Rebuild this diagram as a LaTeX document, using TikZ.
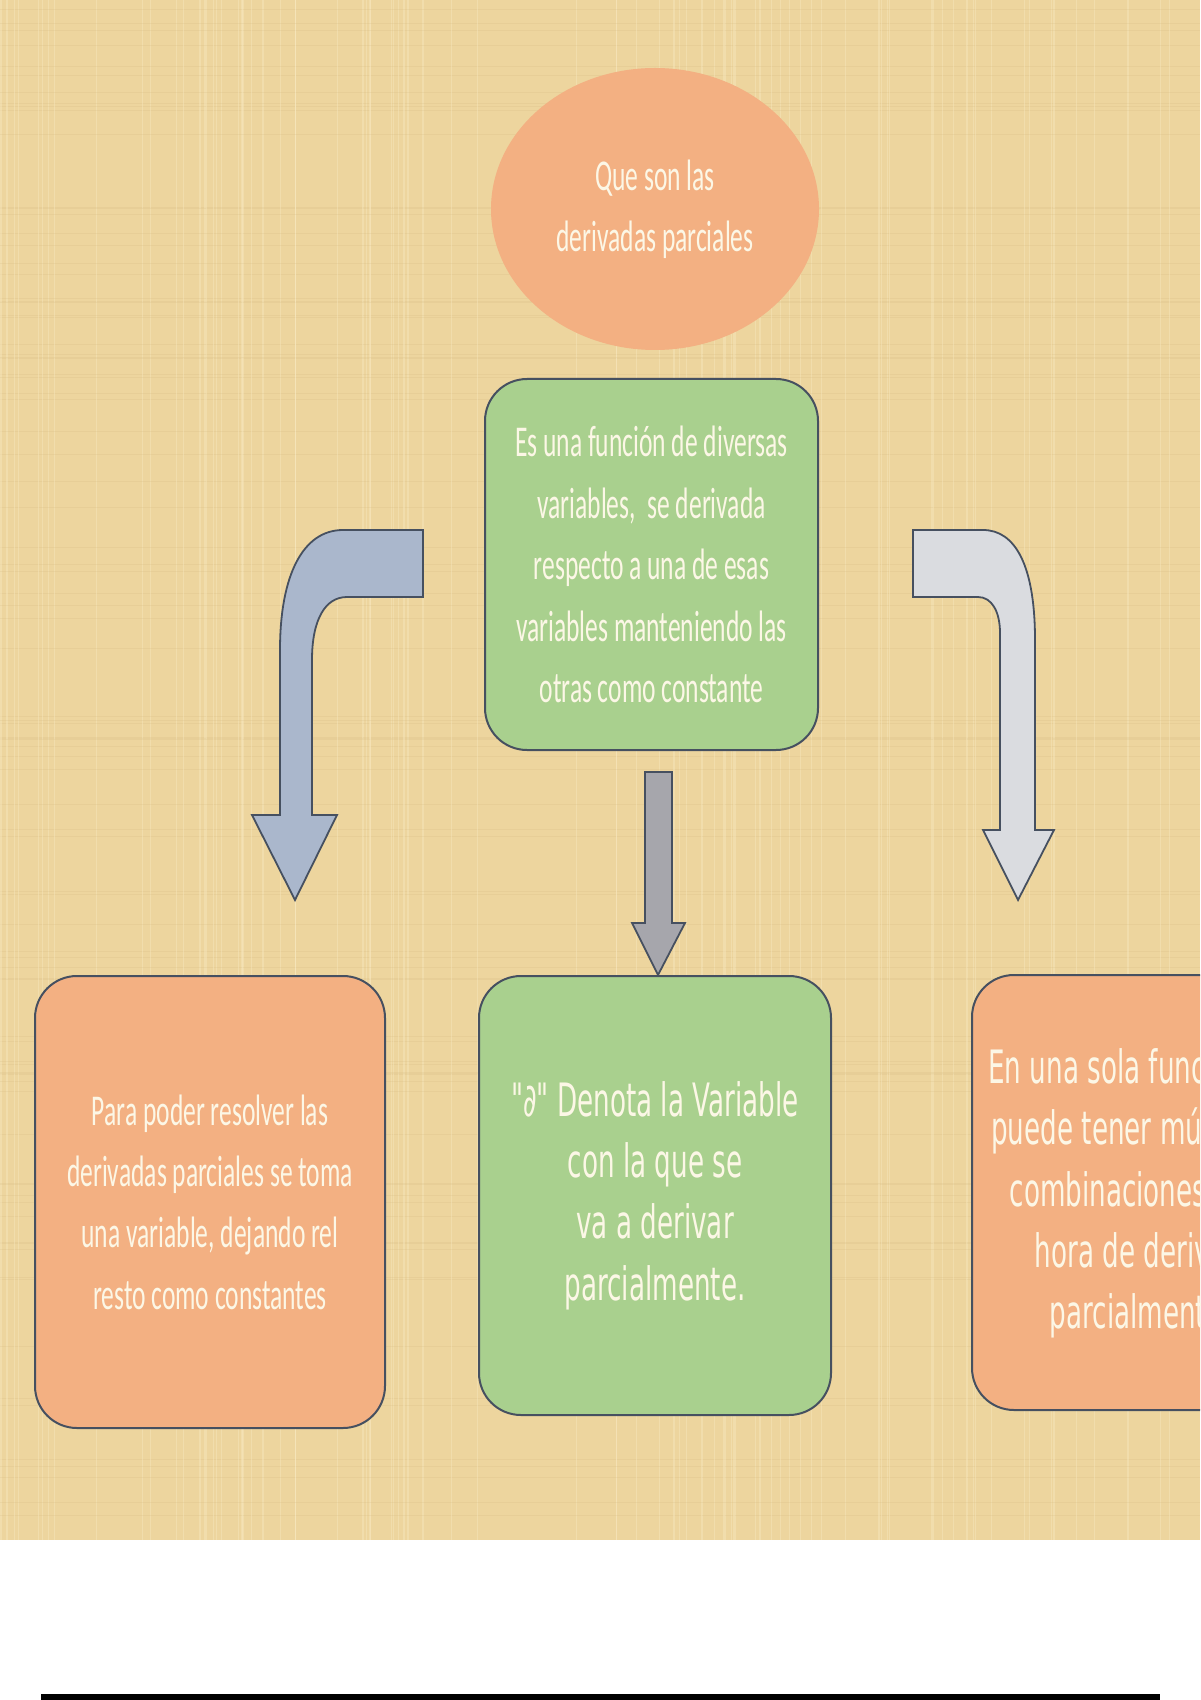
\documentclass[tikz,border=0pt]{standalone}
\usepackage{fontspec}
\usepackage{xcolor}
\usepackage{tikz}
\usetikzlibrary{shapes.geometric}
\usetikzlibrary{positioning}
\newfontfamily\califont[FakeStretch=0.58]{Carlito}
\newfontfamily\dejafont[FakeStretch=0.57]{DejaVu Sans}
\definecolor{paper}{RGB}{237,213,158}
\definecolor{paperlight}{RGB}{248,232,190}
\definecolor{paperdark}{RGB}{205,178,120}
\definecolor{peach}{RGB}{243,176,130}
\definecolor{leaf}{RGB}{169,208,142}
\definecolor{cream}{RGB}{252,247,230}
\definecolor{edge}{RGB}{70,80,96}
\definecolor{slate}{RGB}{170,183,204}
\definecolor{silver}{RGB}{218,220,224}
\definecolor{steel}{RGB}{166,166,172}
\tikzset{
    tnode/.style = {align=center, inner sep=0pt, text centered, text=cream},
    oval_node/.style = {tnode, ellipse, fill=peach, minimum width=164pt, minimum height=141pt},
    green_box/.style = {tnode, rectangle, rounded corners=21pt, draw=edge, line width=1pt, fill=leaf},
    peach_box/.style = {tnode, rectangle, rounded corners=21pt, draw=edge, line width=1pt, fill=peach},
    cali_text/.style = {font=\fontsize{22}{30.7}\califont},
    deja_text/.style = {font=\fontsize{23}{30.7}\dejafont},
    block_arrow/.style = {draw=edge, line width=0.9pt, line join=miter}
}

\begin{document}
\begin{tikzpicture}[x=0.5pt, y=-0.5pt]
    \useasboundingbox (0,0) rectangle (1200,1700);
    \clip (0,0) rectangle (1200,1700);
    % paper background
    \fill[white] (0,0) rectangle (1200,1700);
    \fill[paper] (0,0) rectangle (1200,1540);
    \pgfmathsetseed{11}
    \foreach \i in {1,...,90} {
        \pgfmathsetmacro\xx{rnd*1200}
        \pgfmathsetmacro\yy{rnd*1540}
        \draw[paperlight, opacity=0.45, line width=0.6pt] (\xx,0) -- (\xx,1540);
        \draw[paperdark, opacity=0.18, line width=0.5pt] (0,\yy) -- (1200,\yy);
    }
    \fill[black] (41,1694) rectangle (1160,1700);

    \node (que) [oval_node, cali_text] at (655,209)
        {Que son las\\derivadas parciales};
    \node (def) [green_box, cali_text, minimum width=166.5pt, minimum height=185.5pt] at (651.5,564.5)
        {Es una función de diversas\\variables,\ \ se derivada\\respecto a una de esas\\variables manteniendo las\\otras como constante};
    \node (para) [peach_box, cali_text, minimum width=175pt, minimum height=226pt] at (210,1202)
        {Para poder resolver las\\derivadas parciales se toma\\una variable, dejando rel\\resto como constantes};
    \node (denota) [green_box, deja_text, minimum width=176pt, minimum height=219.5pt] at (655,1195.5)
        {"∂" Denota la Variable\\con la que se\\va a derivar\\parcialmente.};
    \node (sola) [peach_box, deja_text, minimum width=164pt, minimum height=217.5pt] at (1136,1192.5)
        {En una sola función se\\puede tener múltiples\\combinaciones a la\\hora de derivar\\parcialmente};

    % bent arrows
    \draw[block_arrow, fill=slate] (423,530) -- (343,530)
        .. controls (303,530) and (280,575) .. (280,650) -- (280,815) -- (252,815)
        -- (295,900) -- (337,815) -- (312,815) -- (312,660)
        .. controls (312,620) and (325,597) .. (347,597) -- (423,597) -- cycle;
    \draw[block_arrow, fill=silver] (913,530) -- (983,530)
        .. controls (1015,530) and (1035,565) .. (1035,640) -- (1035,830) -- (1054,830)
        -- (1018,900) -- (983,830) -- (1000,830) -- (1000,633)
        .. controls (1000,612) and (992,597) .. (978,597) -- (913,597) -- cycle;
    \draw[block_arrow, fill=steel] (645,772) -- (672,772) -- (672,923) -- (685,923)
        -- (658,975) -- (632,923) -- (645,923) -- cycle;
\end{tikzpicture}
\end{document}
